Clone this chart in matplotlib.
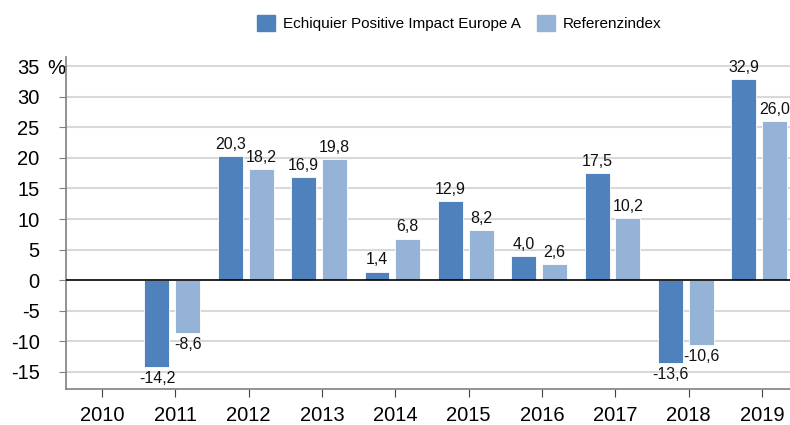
import matplotlib
matplotlib.use("Agg")
import matplotlib.pyplot as plt
import numpy as np
from matplotlib.patches import Patch

plt.rcParams['font.family'] = ['Liberation Sans', 'DejaVu Sans']

years = ['2010', '2011', '2012', '2013', '2014', '2015', '2016', '2017', '2018', '2019']
fund = [None, -14.2, 20.3, 16.9, 1.4, 12.9, 4.0, 17.5, -13.6, 32.9]
index = [None, -8.6, 18.2, 19.8, 6.8, 8.2, 2.6, 10.2, -10.6, 26.0]
series_names = ['Echiquier Positive Impact Europe A', 'Referenzindex']
yticks = [-15, -10, -5, 0, 5, 10, 15, 20, 25, 30, 35]

c_dark = '#4f81bd'
c_light = '#95b3d7'

fig = plt.figure(figsize=(7.9, 4.25), dpi=100)
ax = fig.add_axes([66/790, 36/425, 1 - 66/790, (389-57)/425])

x = np.arange(len(years))
w = 0.34
off_d, off_l = -0.25, 0.17

for yv in yticks:
    if yv != 0:
        ax.axhline(yv, color='#d9d9d9', lw=1.5, zorder=0)

def fmt(v):
    return f"{v:.1f}".replace('.', ',')

for i in range(len(years)):
    for vals, off, col in ((fund, off_d, c_dark), (index, off_l, c_light)):
        v = vals[i]
        if v is None:
            continue
        ax.bar(x[i] + off, v, width=w, color=col, edgecolor='white', linewidth=0.6, zorder=2)
        if v >= 0:
            ax.annotate(fmt(v), (x[i] + off, v), xytext=(0, 3), textcoords='offset points',
                        ha='center', va='bottom', fontsize=11.5, color='#111111')
        else:
            ax.annotate(fmt(v), (x[i] + off, v), xytext=(0, -3), textcoords='offset points',
                        ha='center', va='top', fontsize=11.5, color='#111111')

ax.axhline(0, color='black', lw=1.2, zorder=3)

ax.set_xlim(-0.49, 9.38)
ax.set_ylim(-17.8, 36.5)
ax.set_xticks(x)
ax.set_xticklabels(years, fontsize=14.5)
ax.set_yticks(yticks)
ax.set_yticklabels([str(t) for t in yticks], fontsize=14.5)
ax.tick_params(axis='y', length=5, pad=14, color='#808080')
ax.tick_params(axis='x', length=6, pad=6.5, color='#404040')
ax.text(-0.026, 35, '%', transform=ax.get_yaxis_transform(), ha='left',
        va='center_baseline', fontsize=14.5)

for s in ['top', 'right']:
    ax.spines[s].set_visible(False)
ax.spines['left'].set_color('#808080')
ax.spines['bottom'].set_color('#808080')
ax.spines['left'].set_linewidth(1.2)
ax.spines['bottom'].set_linewidth(1.2)

handles = [Patch(color=c_dark), Patch(color=c_light)]
fig.legend(handles, series_names, loc='center', bbox_to_anchor=(459/790, 1 - 23/425),
           ncol=2, frameon=False, fontsize=11, handlelength=1.2, handleheight=1.2,
           handletextpad=0.5, columnspacing=1.05)

fig.savefig('out.png', dpi=100)
